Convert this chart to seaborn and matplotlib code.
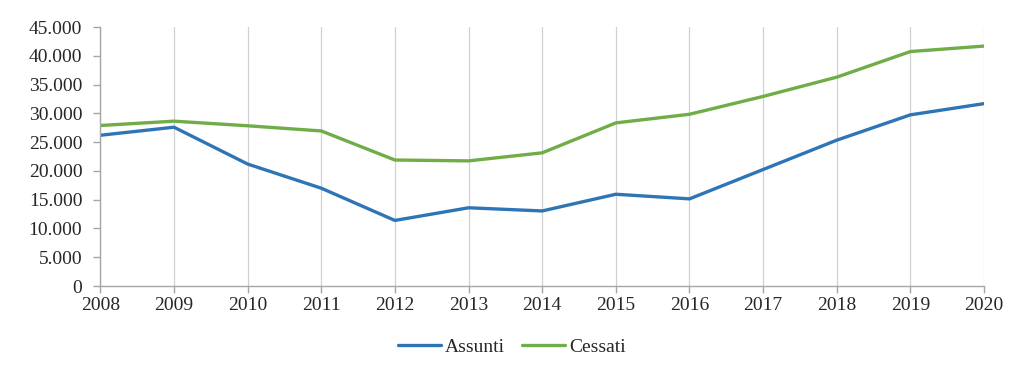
import pandas as pd
import matplotlib
matplotlib.use("Agg")
import matplotlib.pyplot as plt
import matplotlib.ticker as mticker
import seaborn as sns

# Data
years = [2008, 2009, 2010, 2011, 2012, 2013, 2014, 2015, 2016, 2017, 2018, 2019, 2020]
assunti = [26200, 27600, 21200, 17000, 11400, 13600, 13050, 15950, 15150, 20250, 25350, 29750, 31700]
cessati = [27900, 28650, 27850, 26950, 21900, 21750, 23150, 28350, 29850, 32950, 36300, 40750, 41700]
series_names = ["Assunti", "Cessati"]
colors = ["#2E75B6", "#70AD47"]

df = pd.DataFrame({"Anno": years * 2,
                   "Valore": assunti + cessati,
                   "Serie": [series_names[0]] * len(years) + [series_names[1]] * len(years)})

sns.set_style("white")
plt.rcParams['font.family'] = ['Liberation Serif', 'DejaVu Serif']
fs = 14

fig, ax = plt.subplots(figsize=(10.24, 3.71), dpi=100)
fig.subplots_adjust(left=0.098, right=0.961, top=0.927, bottom=0.229)

sns.lineplot(data=df, x="Anno", y="Valore", hue="Serie", palette=colors,
             linewidth=2.4, ax=ax, legend=True)

ax.set_xlim(2008, 2020)
ax.set_ylim(0, 45000)
ax.set_xticks(years)
ax.set_yticks(range(0, 45001, 5000))
ax.yaxis.set_major_formatter(mticker.FuncFormatter(lambda v, p: f"{int(v):,}".replace(",", ".")))
ax.set_xlabel("")
ax.set_ylabel("")

ax.grid(axis="x", color="#D0D0D0", linewidth=0.9)
ax.set_axisbelow(True)
for s in ["top", "right"]:
    ax.spines[s].set_visible(False)
for s in ["left", "bottom"]:
    ax.spines[s].set_color("#A6A6A6")
    ax.spines[s].set_linewidth(1.0)
ax.tick_params(axis="both", direction="out", left=True, bottom=True,
               length=5, width=1.0, color="#A6A6A6", labelsize=fs)
ax.tick_params(axis="y", pad=8)
ax.tick_params(axis="x", pad=3)

# legend centred on the figure, below the axes
handles, labels = ax.get_legend_handles_labels()
ax.get_legend().remove()
fig.legend(handles, labels, loc="upper center", bbox_to_anchor=(0.5, 0.135),
           bbox_transform=fig.transFigure, ncol=2, frameon=False, fontsize=fs,
           handlelength=2.2, columnspacing=0.9, handletextpad=0.2)

fig.savefig("out.png", dpi=100)
